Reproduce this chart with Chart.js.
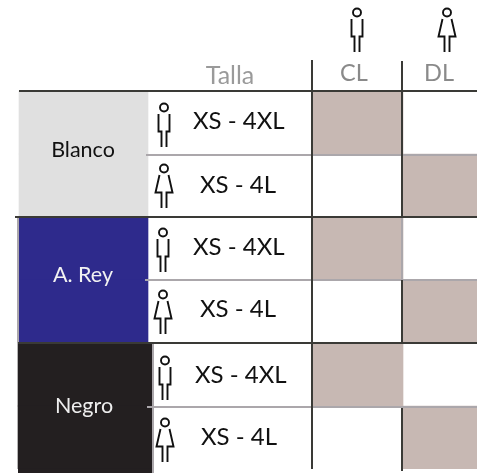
<!DOCTYPE html>
<html>
<head>
<meta charset="utf-8">
<style>
  html, body { margin: 0; padding: 0; background: #fff; }
  canvas { display: block; }
</style>
<script src="https://cdn.jsdelivr.net/npm/chart.js@4"></script>
</head>
<body>
<canvas id="myChart" width="477" height="473"></canvas>
<script>
// table content
const colours = ['Blanco', 'A. Rey', 'Negro'];
const colourFills = ['#e0e0e0', '#2e2a8c', '#231f20'];
const colourText = ['#111111', '#f2f2f2', '#eeeeee'];
const columns = ['Talla', 'CL', 'DL'];
const rows = ['header', 'Blanco H', 'Blanco M', 'A. Rey H', 'A. Rey M', 'Negro H', 'Negro M'];
const sizes = ['XS - 4XL', 'XS - 4L', 'XS - 4XL', 'XS - 4L', 'XS - 4XL', 'XS - 4L'];
const fits = ['man', 'woman', 'man', 'woman', 'man', 'woman'];
const hasCL = [1, 0, 1, 0, 1, 0];
const hasDL = [0, 1, 0, 1, 0, 1];

// layout, in page pixels
const swatchEdges = [[19, 148], [19, 148], [18, 152]];
const clEdges = [313, 403];
const dlEdges = [403, 477];
const colourLabelPos = [[83, 150], [83, 275], [84, 406]];
const sizeLabelPos = [[193, 121], [200, 185], [193, 247], [200, 309], [195, 375], [201, 437]];
const columnLabelPos = [[230, 76], [354, 73], [439, 73]];
const rowIconPos = [[164, 125], [164, 186], [163, 250], [163, 312], [165, 378], [165, 440]];
const headerIconPos = [[357, 30], [447, 30]];

const darkRules = [
  [[19, 91], [477, 91]], [[15, 217], [477, 217]], [[18, 343], [477, 343]],
  [[312, 60], [312, 469]],
  [[402, 61], [402, 217]], [[402, 280], [402, 343]], [[402, 408], [402, 471]]
];
const greyRules = [
  [[146, 155], [477, 155]], [[145, 280], [477, 280]], [[147, 407], [477, 407]],
  [[402, 217], [402, 280]], [[18, 217], [18, 343]], [[153, 343], [153, 473]]
];

// little person icons used as point styles
function makeIcon(kind) {
  const c = document.createElement('canvas');
  c.width = 26;
  c.height = 48;
  const g = c.getContext('2d');
  g.strokeStyle = '#111111';
  g.lineWidth = 1.9;
  g.lineJoin = 'miter';
  g.beginPath();
  g.arc(13, 6.5, 4, 0, Math.PI * 2);
  if (kind == 'man') {
    g.moveTo(7.5, 13); g.lineTo(7.5, 30.5); g.lineTo(10.5, 30.5); g.lineTo(10.5, 46);
    g.moveTo(18.5, 13); g.lineTo(18.5, 30.5); g.lineTo(15.5, 30.5); g.lineTo(15.5, 46);
  } else {
    g.moveTo(8.5, 13); g.lineTo(4.5, 30.5); g.lineTo(10.5, 30.5); g.lineTo(10.5, 46);
    g.moveTo(17.5, 13); g.lineTo(21.5, 30.5); g.lineTo(15.5, 30.5); g.lineTo(15.5, 46);
  }
  g.stroke();
  return c;
}
const icons = { man: makeIcon('man'), woman: makeIcon('woman') };

// one bar per table row, null where the cell stays white
function cellBars(flags, edges) {
  return [null].concat(flags.map(f => f ? edges : null));
}
const swatchBars = [null];
const swatchColours = ['#ffffff'];
colours.forEach((name, i) => {
  swatchBars.push(swatchEdges[i], swatchEdges[i]);
  swatchColours.push(colourFills[i], colourFills[i]);
});

function barSet(data, colour) {
  return {
    type: 'bar', indexAxis: 'y', grouped: false, xAxisID: 'x', yAxisID: 'y',
    data: data, backgroundColor: colour, borderWidth: 0,
    barPercentage: 1, categoryPercentage: 1, order: 3
  };
}
function ruleSet(points, colour, width) {
  return {
    type: 'scatter', showLine: true, xAxisID: 'x', yAxisID: 'px', clip: false,
    data: points.map(p => ({ x: p[0], y: p[1] })),
    borderColor: colour, borderWidth: width, pointRadius: 0, order: 2
  };
}
function iconSet(positions, styles) {
  return {
    type: 'scatter', xAxisID: 'x', yAxisID: 'px', clip: false,
    data: positions.map(p => ({ x: p[0], y: p[1] })),
    pointStyle: styles, pointRadius: 20, order: 1
  };
}

// writes the labels, placed through the same scales as the marks
const tableText = {
  id: 'tableText',
  afterDatasetsDraw(chart) {
    const ctx = chart.ctx;
    const sx = chart.scales.x;
    const sy = chart.scales.px;
    function put(text, pos, size, colour, align) {
      ctx.font = size + 'px Lato';
      ctx.fillStyle = colour;
      ctx.textAlign = align;
      ctx.textBaseline = 'middle';
      ctx.fillText(text, sx.getPixelForValue(pos[0]), sy.getPixelForValue(pos[1]));
    }
    ctx.save();
    colours.forEach((t, i) => put(t, colourLabelPos[i], 21.5, colourText[i], 'center'));
    sizes.forEach((t, i) => put(t, sizeLabelPos[i], 24, '#111111', 'left'));
    put(columns[0], columnLabelPos[0], 25, '#9a9a9a', 'center');
    put(columns[1], columnLabelPos[1], 23.5, '#8a8a8a', 'center');
    put(columns[2], columnLabelPos[2], 23.5, '#8a8a8a', 'center');
    ctx.restore();
  }
};

const datasets = [
  barSet(swatchBars, swatchColours),
  barSet(cellBars(hasCL, clEdges), '#c7b8b3'),
  barSet(cellBars(hasDL, dlEdges), '#c7b8b3'),
  ruleSet([[18, 471], [152, 471]], colourFills[2], 5)
];
darkRules.forEach(r => datasets.push(ruleSet(r, '#3a3a36', 2)));
greyRules.forEach(r => datasets.push(ruleSet(r, '#aba7ab', 2)));
datasets.push(iconSet(rowIconPos, fits.map(f => icons[f])));
datasets.push(iconSet(headerIconPos, [icons.man, icons.woman]));

const myChart = new Chart(document.getElementById('myChart'), {
  data: { labels: rows, datasets: datasets },
  plugins: [tableText],
  options: {
    responsive: false,
    animation: false,
    events: [],
    layout: { autoPadding: false, padding: { top: 28, bottom: 4, left: 0, right: 0 } },
    plugins: { legend: { display: false }, tooltip: { enabled: false } },
    scales: {
      x: { type: 'linear', min: 0, max: 477, display: false },
      y: { type: 'category', labels: rows, offset: true, display: false },
      px: { type: 'linear', axis: 'y', reverse: true, min: 28, max: 469, display: false }
    }
  }
});
</script>
</body>
</html>
